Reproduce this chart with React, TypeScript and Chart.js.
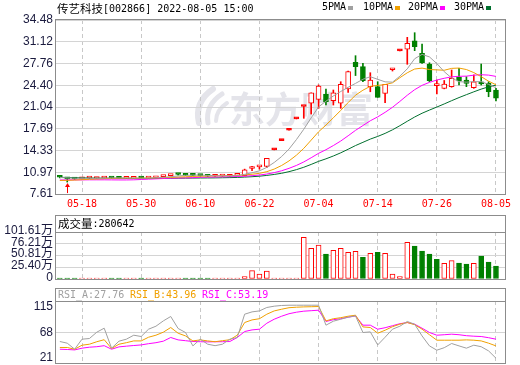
import React, { useEffect, useRef } from 'react';
import { Chart, registerables } from 'chart.js';

Chart.register(...registerables);

// ---------------- data ----------------
const stockName = '传艺科技';
const stockCode = '002866';
const stampText = '2022-08-05 15:00';
const watermarkText = '东方财富';

const dates = ['05-13','05-16','05-17','05-18','05-19','05-20','05-23','05-24','05-25','05-26','05-27','05-30','05-31','06-01','06-02','06-06','06-07','06-08','06-09','06-10','06-13','06-14','06-15','06-16','06-17','06-20','06-21','06-22','06-23','06-24','06-27','06-28','06-29','06-30','07-01','07-04','07-05','07-06','07-07','07-08','07-11','07-12','07-13','07-14','07-15','07-18','07-19','07-20','07-21','07-22','07-25','07-26','07-27','07-28','07-29','08-01','08-02','08-03','08-04','08-05'];

const opens = [10.25,10.10,9.95,9.95,10.05,10.00,10.05,10.15,10.05,10.02,10.03,10.12,10.05,10.12,10.30,10.45,10.65,10.58,10.55,10.48,10.40,10.35,10.38,10.35,10.48,10.45,11.55,11.80,11.85,14.42,15.86,17.45,19.20,21.12,21.62,22.23,23.05,22.02,21.62,23.82,27.95,27.27,24.18,24.18,23.16,26.80,29.71,29.99,31.28,29.34,27.68,24.35,23.93,24.18,25.63,25.21,24.02,24.95,24.70,23.67];
const highs = [10.30,10.15,10.02,10.10,10.12,10.15,10.18,10.18,10.10,10.10,10.12,10.15,10.14,10.30,10.48,10.62,10.72,10.62,10.58,10.55,10.48,10.42,10.45,10.52,10.62,11.45,11.90,12.05,13.11,14.42,15.86,17.45,19.20,21.12,23.23,24.45,23.82,23.67,24.95,26.60,28.97,27.80,26.34,24.95,24.55,27.01,29.71,31.80,32.52,30.77,27.88,25.20,25.14,26.76,27.02,25.72,26.00,27.68,24.95,23.93];
const lows = [10.10,9.45,9.85,9.90,9.98,9.95,10.00,10.00,9.98,9.98,10.00,10.02,10.02,10.10,10.25,10.40,10.50,10.45,10.45,10.38,10.30,10.28,10.30,10.30,10.40,10.40,11.20,11.45,11.70,14.42,15.86,17.45,19.20,19.30,19.96,20.84,21.35,21.35,20.84,23.30,25.90,24.95,23.40,22.54,21.70,26.60,29.71,27.64,29.74,27.79,24.95,23.05,23.85,24.10,24.44,24.18,23.93,24.44,22.63,22.00];
const closes = [10.20,9.95,9.92,10.05,10.08,10.12,10.15,10.05,10.02,10.06,10.08,10.05,10.12,10.28,10.38,10.60,10.62,10.50,10.48,10.45,10.35,10.38,10.40,10.48,10.58,11.35,11.62,11.92,13.11,14.42,15.86,17.45,19.20,21.12,23.23,24.29,21.86,23.25,24.55,26.50,27.27,25.10,25.20,22.54,24.55,27.01,29.71,30.88,30.35,27.88,25.10,24.55,24.60,25.48,25.06,24.70,24.95,24.60,23.41,22.39];
// volume in 万手
const volumes = [1.5,2.0,1.2,1.0,0.9,1.1,1.0,1.3,0.9,0.8,1.0,1.2,1.0,1.4,1.6,1.8,1.5,1.2,1.0,0.9,1.0,0.9,0.8,1.2,1.6,5.0,18.0,10.8,17.3,1.5,1.0,1.2,1.8,90.1,66.3,73.5,54.0,62.0,66.3,57.7,59.9,46.9,55.5,57.7,55.5,10.8,5.0,79.3,71.3,60.5,54.0,42.6,33.9,39.6,34.6,32.4,33.9,49.7,36.8,28.06];

const ma5 = [10.15,10.10,10.05,10.03,10.04,10.02,10.06,10.09,10.08,10.08,10.07,10.05,10.07,10.12,10.18,10.29,10.40,10.48,10.52,10.53,10.48,10.43,10.41,10.41,10.44,10.64,10.89,11.19,11.72,12.48,13.39,14.55,16.01,17.61,19.37,21.06,21.94,22.75,23.44,24.09,24.69,25.33,25.72,25.32,24.93,24.88,25.80,26.94,28.50,29.17,28.78,27.75,26.50,25.52,24.96,24.88,24.96,24.96,24.54,24.01];
const ma10 = [9.70,9.72,9.76,9.82,9.88,9.93,9.98,10.02,10.04,10.06,10.05,10.06,10.08,10.10,10.13,10.18,10.23,10.27,10.32,10.36,10.38,10.42,10.44,10.46,10.48,10.56,10.66,10.80,11.06,11.46,12.01,12.72,13.60,14.66,15.93,17.22,18.25,19.38,20.52,21.73,22.87,23.64,24.24,24.38,24.51,24.78,25.57,26.33,26.91,27.05,26.83,26.78,26.72,27.01,27.06,26.83,26.36,25.73,25.03,24.48];
const ma20 = [9.78,9.78,9.79,9.79,9.80,9.80,9.80,9.79,9.78,9.78,9.80,9.85,9.90,9.95,10.00,10.05,10.08,10.10,10.12,10.21,10.22,10.24,10.26,10.28,10.31,10.37,10.44,10.54,10.69,10.91,11.20,11.57,12.02,12.56,13.21,13.89,14.45,15.09,15.79,16.60,17.44,18.18,18.92,19.52,20.22,21.00,21.91,22.86,23.72,24.39,24.85,25.21,25.48,25.70,25.79,25.81,25.96,26.03,25.97,25.77];
const ma30 = [10.20,10.15,10.12,10.10,10.08,10.06,10.05,10.04,10.03,10.02,10.01,10.00,10.00,10.00,10.01,10.03,10.05,10.06,10.07,10.08,10.09,10.10,10.12,10.14,10.17,10.22,10.28,10.36,10.48,10.63,10.81,11.06,11.37,11.74,12.18,12.65,13.04,13.48,13.97,14.52,15.09,15.59,16.09,16.50,16.97,17.52,18.16,18.84,19.50,20.08,20.57,21.04,21.52,22.02,22.50,22.95,23.39,23.81,24.16,24.42];

const rsiA = [51.4,48.3,37.2,55.7,56.9,68.6,75.9,39.1,52.0,55.7,63.0,60.6,74.1,79.6,89.4,97.5,75.4,68.0,43.3,55.7,46.4,43.7,46.4,55.7,58.8,101.7,106.0,107.8,114.1,116.5,117.8,118.3,118.3,118.3,118.3,118.3,81.5,88.8,92.5,96.2,98.6,68.0,69.1,45.1,59.3,74.1,79.6,88.3,83.3,61.7,43.3,35.4,40.0,47.7,43.3,39.1,44.6,41.8,34.1,20.6];
const rsiB = [40.4,40.4,37.2,44.6,46.4,51.0,54.7,38.5,46.4,49.2,52.5,52.5,59.3,63.0,68.6,77.2,66.7,61.7,52.5,54.4,52.5,51.0,52.9,54.7,63.0,86.4,91.2,93.4,101.7,107.8,110.9,113.7,114.6,115.2,115.5,115.9,89.4,93.4,95.3,98.0,99.9,78.3,77.2,66.7,72.2,78.7,83.3,86.4,82.4,74.1,63.9,53.8,53.8,53.8,53.8,54.4,53.8,52.5,48.3,43.3];
const rsiC = [37.2,36.7,35.9,39.1,40.9,41.8,43.7,37.2,41.5,42.8,44.0,45.1,47.4,49.2,52.0,58.8,54.4,52.9,51.4,51.0,50.7,50.9,51.0,51.4,58.8,69.8,72.8,74.1,85.1,92.5,98.0,102.6,105.4,107.3,108.2,109.1,88.3,91.6,93.4,96.2,98.6,81.5,81.5,74.1,76.8,80.5,84.2,86.4,83.3,75.9,68.0,63.0,63.9,64.9,63.9,62.1,61.2,60.6,58.4,55.7];

const priceTickLabels = ['7.61','10.97','14.33','17.69','21.04','24.40','27.76','31.12','34.48'];
const volTickValues = [0, 25.40, 50.81, 76.21, 101.61];
const volTickLabels = ['0','25.40万','50.81万','76.21万','101.61万'];
const rsiTickValues = [21, 68, 115];
const rsiTickLabels = ['21','68','115'];
const dateTickIndex = [3, 11, 19, 27, 35, 43, 51, 59];
const maNames = ['5PMA','10PMA','20PMA','30PMA'];
const rsiNames = ['RSI_A','RSI_B','RSI_C'];
const rsiLast = ['27.76','43.96','53.19'];
const volumeName = '成交量';
const volumeLast = '280642';

// ---------------- styles ----------------
const RED = '#ff0000';
const GREEN = '#008000';
const MA_COLORS = ['#a0a0a0', '#f0a000', '#ff00ff', '#006f2e'];
const RSI_COLORS = ['#a0a0a0', '#f0a000', '#ff00ff'];
const GRID = '#d4d4d4';
const VGRID = '#c8c8c8';
const FRAME = '#8c8c8c';
const LABEL = '#1a1a3e';
const MONO = '"DejaVu Sans Mono", "Liberation Mono", monospace';
const CJK = '"Noto Sans CJK SC", sans-serif';
const SANS = '"Liberation Sans", "Noto Sans CJK SC", Arial, sans-serif';
const X_MIN = -0.52;
const X_MAX = 60.22;

const idx = closes.map((_, i) => i);
const candleUp = (i: number) => closes[i] > opens[i] || (closes[i] === opens[i] && (i === 0 || closes[i] >= closes[i - 1]));
const candleColor = (i: number) => (candleUp(i) ? RED : GREEN);
const volUp = (i: number) => (i === 0 ? closes[0] >= opens[0] : closes[i] >= closes[i - 1]);

type Part = { text: string; font: string; color: string };
function drawParts(ctx: CanvasRenderingContext2D, parts: Part[], x: number, y: number) {
  ctx.save();
  ctx.textBaseline = 'middle';
  ctx.textAlign = 'left';
  let cx = x;
  for (const p of parts) {
    ctx.font = p.font;
    ctx.fillStyle = p.color;
    ctx.fillText(p.text, cx, y);
    cx += ctx.measureText(p.text).width;
  }
  ctx.restore();
  return cx;
}

function xAxis(showLabels: boolean, h: number): any {
  return {
    type: 'linear',
    min: X_MIN,
    max: X_MAX,
    offset: false,
    afterBuildTicks: (s: any) => {
      s.ticks = dateTickIndex.map((v) => ({ value: v }));
    },
    afterFit: (s: any) => {
      s.height = h;
      s.paddingLeft = 0;
      s.paddingRight = 0;
    },
    ticks: {
      display: showLabels,
      autoSkip: false,
      maxRotation: 0,
      minRotation: 0,
      padding: 4,
      color: RED,
      font: { family: MONO, size: 10 },
      callback: (v: number) => dates[Math.round(v)],
    },
    grid: { color: VGRID, lineWidth: 1, drawTicks: false, offset: false, borderDash: [4, 3] },
    border: { display: false, dash: [4, 3] },
  };
}

function yAxis(min: number, max: number, vals: number[], labels: string[], labelOffset: number, onlyValue?: number): any {
  return {
    type: 'linear',
    min,
    max,
    beginAtZero: false,
    afterBuildTicks: (s: any) => {
      s.ticks = vals.map((v) => ({ value: v }));
    },
    afterFit: (s: any) => {
      s.width = 56;
      s.paddingTop = 0;
      s.paddingBottom = 0;
    },
    ticks: {
      autoSkip: false,
      padding: 3,
      color: LABEL,
      labelOffset,
      font: { family: SANS, size: 12 },
      callback: (_v: number, i: number) => labels[i],
    },
    grid: {
      drawTicks: false,
      lineWidth: 1,
      color: (c: any) =>
        onlyValue === undefined || (c.tick && Math.abs(c.tick.value - onlyValue) < 0.001) ? GRID : 'rgba(0,0,0,0)',
    },
    border: { display: false },
  };
}

const commonOpts = {
  responsive: false,
  animation: false as const,
  devicePixelRatio: 1,
  events: [] as any[],
  plugins: { legend: { display: false }, tooltip: { enabled: false }, title: { display: false } },
};

function drawBox(ctx: CanvasRenderingContext2D, chart: any, boxTop: number) {
  const { left, right, top, bottom } = chart.chartArea;
  ctx.save();
  ctx.strokeStyle = FRAME;
  ctx.lineWidth = 1;
  ctx.strokeRect(left - 0.5, boxTop + 0.5, right - left + 1, bottom - boxTop);
  ctx.beginPath();
  ctx.moveTo(left - 0.5, top + 0.5);
  ctx.lineTo(right + 0.5, top + 0.5);
  ctx.stroke();
  ctx.restore();
}

function mainConfig(): any {
  const decor = {
    id: 'mainDecor',
    beforeDraw(chart: any) {
      const ctx = chart.ctx as CanvasRenderingContext2D;
      ctx.save();
      const wm = '#e4e4ea';
      ctx.strokeStyle = wm;
      ctx.lineCap = 'round';
      ctx.lineWidth = 6;
      ctx.beginPath();
      ctx.moveTo(199, 123);
      ctx.quadraticCurveTo(194, 102, 213, 89);
      ctx.stroke();
      ctx.lineWidth = 5;
      ctx.beginPath();
      ctx.moveTo(208, 123);
      ctx.quadraticCurveTo(205, 105, 222, 94);
      ctx.stroke();
      ctx.lineWidth = 4;
      ctx.beginPath();
      ctx.moveTo(216, 121);
      ctx.quadraticCurveTo(216, 110, 227, 103);
      ctx.stroke();
      ctx.fillStyle = wm;
      ctx.font = `bold 36px ${CJK}`;
      ctx.textBaseline = 'middle';
      ctx.fillText(watermarkText, 229, 109);
      ctx.restore();
    },
    afterDatasetsDraw(chart: any) {
      const ctx = chart.ctx as CanvasRenderingContext2D;
      let li = 0;
      lows.forEach((v, i) => {
        if (v < lows[li]) li = i;
      });
      const x = Math.round(chart.scales.x.getPixelForValue(li)) + 0.5;
      const y = chart.scales.y.getPixelForValue(lows[li]) + 1;
      ctx.save();
      ctx.strokeStyle = RED;
      ctx.fillStyle = RED;
      ctx.lineWidth = 1;
      ctx.beginPath();
      ctx.moveTo(x, y + 3);
      ctx.lineTo(x, y + 10);
      ctx.stroke();
      ctx.beginPath();
      ctx.moveTo(x, y);
      ctx.lineTo(x - 2.5, y + 4);
      ctx.lineTo(x + 2.5, y + 4);
      ctx.closePath();
      ctx.fill();
      ctx.restore();
    },
    afterDraw(chart: any) {
      const ctx = chart.ctx as CanvasRenderingContext2D;
      const { left, right, top, bottom } = chart.chartArea;
      ctx.save();
      ctx.strokeStyle = FRAME;
      ctx.lineWidth = 1;
      ctx.strokeRect(left - 0.5, top - 0.5, right - left + 1, bottom - top + 1);
      ctx.restore();
      drawParts(
        ctx,
        [
          { text: stockName, font: `11.5px ${CJK}`, color: '#000' },
          { text: `[${stockCode}] ${stampText}`, font: `10px ${MONO}`, color: '#000' },
        ],
        57,
        9
      );
      const starts = [322, 363, 408, 454];
      maNames.forEach((n, k) => {
        const end = drawParts(ctx, [{ text: n, font: `10px ${MONO}`, color: '#000' }], starts[k], 7.5);
        ctx.fillStyle = MA_COLORS[k];
        ctx.fillRect(Math.round(end) + 2, 6, 5, 4);
      });
    },
  };
  const maSets = [ma5, ma10, ma20, ma30].map((arr, k) => ({
    type: 'line',
    data: idx.map((i) => ({ x: i, y: arr[i] })),
    borderColor: MA_COLORS[k],
    borderWidth: 1,
    pointRadius: 0,
    tension: 0,
    order: 0,
  }));
  return {
    type: 'bar',
    data: {
      datasets: [
        ...maSets,
        {
          type: 'bar',
          data: idx.map((i) => ({ x: i, y: [Math.min(opens[i], closes[i]), Math.max(opens[i], closes[i])] })),
          backgroundColor: idx.map((i) => (closes[i] > opens[i] ? '#ffffff' : candleColor(i))),
          borderColor: idx.map(candleColor),
          borderWidth: 1,
          borderSkipped: false,
          barThickness: 5,
          minBarLength: 2,
          grouped: false,
          order: 2,
        },
        {
          type: 'bar',
          data: idx.map((i) => ({ x: i, y: [lows[i], highs[i]] })),
          backgroundColor: idx.map(candleColor),
          borderWidth: 0,
          barThickness: 1,
          minBarLength: 1,
          grouped: false,
          order: 3,
        },
      ],
    },
    options: {
      ...commonOpts,
      layout: { padding: { left: 0, top: 20, right: 15, bottom: 0 } },
      scales: {
        x: xAxis(true, 20),
        y: yAxis(7.61, 34.48, priceTickLabels.map(parseFloat), priceTickLabels, 0),
      },
    },
    plugins: [decor],
  };
}

function volConfig(): any {
  const decor = {
    id: 'volDecor',
    afterDraw(chart: any) {
      const ctx = chart.ctx as CanvasRenderingContext2D;
      drawBox(ctx, chart, 11);
      drawParts(
        ctx,
        [
          { text: volumeName, font: `11.5px ${CJK}`, color: '#000' },
          { text: `:${volumeLast}`, font: `10px ${MONO}`, color: '#000' },
        ],
        58,
        20
      );
    },
  };
  return {
    type: 'bar',
    data: {
      datasets: [
        {
          type: 'bar',
          data: idx.map((i) => ({ x: i, y: volumes[i] })),
          backgroundColor: idx.map((i) => (volUp(i) ? '#ffffff' : GREEN)),
          borderColor: idx.map((i) => (volUp(i) ? RED : GREEN)),
          borderWidth: 1,
          borderSkipped: false,
          barThickness: 5,
          minBarLength: 1,
          grouped: false,
        },
      ],
    },
    options: {
      ...commonOpts,
      layout: { padding: { left: 0, top: 28, right: 15, bottom: 11 } },
      scales: {
        x: xAxis(false, 0),
        y: yAxis(0, 101.61, volTickValues, volTickLabels, -1.5),
      },
    },
    plugins: [decor],
  };
}

function rsiConfig(): any {
  const decor = {
    id: 'rsiDecor',
    afterDraw(chart: any) {
      const ctx = chart.ctx as CanvasRenderingContext2D;
      drawBox(ctx, chart, 8);
      const xs = [58, 130, 202];
      rsiNames.forEach((n, k) => {
        drawParts(ctx, [{ text: `${n}:${rsiLast[k]}`, font: `10px ${MONO}`, color: RSI_COLORS[k] }], xs[k], 15);
      });
    },
  };
  return {
    type: 'line',
    data: {
      datasets: [rsiA, rsiB, rsiC].map((arr, k) => ({
        type: 'line',
        data: idx.map((i) => ({ x: i, y: arr[i] })),
        borderColor: RSI_COLORS[k],
        borderWidth: 1,
        pointRadius: 0,
        tension: 0,
      })),
    },
    options: {
      ...commonOpts,
      layout: { padding: { left: 0, top: 21, right: 15, bottom: 2 } },
      scales: {
        x: xAxis(false, 0),
        y: yAxis(11.78, 126.06, rsiTickValues, rsiTickLabels, 0, 68),
      },
    },
    plugins: [decor],
  };
}

export default function App() {
  const mainRef = useRef<HTMLCanvasElement>(null);
  const volRef = useRef<HTMLCanvasElement>(null);
  const rsiRef = useRef<HTMLCanvasElement>(null);

  useEffect(() => {
    document.body.style.margin = '0';
    const charts: Chart[] = [];
    if (mainRef.current) charts.push(new Chart(mainRef.current, mainConfig()));
    if (volRef.current) charts.push(new Chart(volRef.current, volConfig()));
    if (rsiRef.current) charts.push(new Chart(rsiRef.current, rsiConfig()));
    return () => charts.forEach((c) => c.destroy());
  }, []);

  const cs = (top: number, h: number): React.CSSProperties => ({
    position: 'absolute',
    left: 0,
    top,
    width: 520,
    height: h,
    display: 'block',
  });

  return (
    <div style={{ position: 'relative', width: 520, height: 365, background: '#ffffff', overflow: 'hidden' }}>
      <canvas ref={mainRef} width={520} height={214} style={cs(0, 214)} />
      <canvas ref={volRef} width={520} height={86} style={cs(204, 86)} />
      <canvas ref={rsiRef} width={520} height={85} style={cs(280, 85)} />
    </div>
  );
}
